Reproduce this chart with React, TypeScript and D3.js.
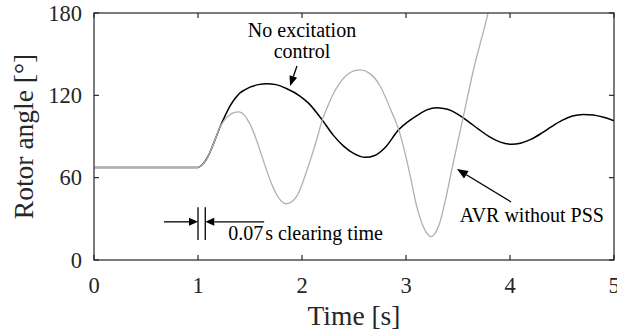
import React from "react";
import * as d3 from "d3";

const X_TICKS = [0, 1, 2, 3, 4, 5];
const Y_TICKS = [0, 60, 120, 180];

// No excitation control (black)
const T_BLACK = [0, 1.0, 1.03, 1.06, 1.1, 1.15, 1.21, 1.26, 1.31, 1.36, 1.4, 1.45, 1.5, 1.58, 1.66, 1.75, 1.85, 1.98, 2.06, 2.19, 2.3, 2.4, 2.5, 2.606, 2.7, 2.8, 2.93, 3.04, 3.1, 3.2, 3.295, 3.4, 3.5, 3.6, 3.7, 3.8, 3.9, 4.016, 4.1, 4.2, 4.3, 4.4, 4.5, 4.6, 4.705, 4.8, 4.9, 5.0];
const V_BLACK = [67.5, 67.5, 68.8, 71, 76, 85, 96.5, 105, 112.5, 118, 121.5, 124, 126, 127.8, 128.5, 127.8, 125, 119.5, 114.5, 102.5, 91, 83, 77.5, 74.8, 76.2, 82, 95, 102, 105, 109.4, 111, 109.8, 106.2, 100.8, 95.2, 89.9, 86.1, 84.3, 85.1, 87.9, 92.2, 97.2, 101.7, 104.9, 106.1, 105.6, 104, 101.5];

// AVR without PSS (gray)
const T_GRAY = [0, 1.0, 1.03, 1.06, 1.1, 1.15, 1.21, 1.25, 1.3, 1.35, 1.39, 1.45, 1.5, 1.55, 1.6, 1.65, 1.7, 1.75, 1.8, 1.846, 1.9, 1.95, 2.0, 2.05, 2.1, 2.15, 2.19, 2.25, 2.3, 2.35, 2.43, 2.5, 2.56, 2.65, 2.75, 2.85, 2.93, 3.0, 3.05, 3.1, 3.15, 3.2, 3.237, 3.27, 3.32, 3.38, 3.44, 3.551, 3.65, 3.79, 3.85];
const V_GRAY = [67.5, 67.5, 68.8, 71, 76, 85, 96.5, 101.5, 105.5, 107.6, 108, 105.2, 99, 90, 79, 67.5, 57, 48.5, 43, 41, 42.5, 46.5, 55, 66, 77.5, 90, 101, 112.5, 121, 127.5, 134.8, 137.8, 138.5, 136, 127, 110, 95, 75, 58, 40, 27.5, 19.5, 17, 18.5, 26, 44, 65.6, 104.5, 139, 180.5, 202];

const FAULT_START = 1.0;
const FAULT_CLEAR = 1.07;

const W = 617;
const H = 330;
const M = { left: 94, right: 614, top: 13, bottom: 260 };
const FONT = "'Liberation Serif', 'Times New Roman', serif";

function arrow(x1: number, y1: number, x2: number, y2: number, L = 10, hw = 4) {
  const dx = x2 - x1, dy = y2 - y1;
  const len = Math.hypot(dx, dy);
  const ux = dx / len, uy = dy / len;
  const bx = x2 - ux * L, by = y2 - uy * L;
  const nx = -uy, ny = ux;
  return {
    line: `M${x1},${y1}L${bx},${by}`,
    head: `M${x2},${y2}L${bx + nx * hw},${by + ny * hw}L${bx - nx * hw},${by - ny * hw}Z`,
  };
}

export default function App() {
  const x = d3.scaleLinear().domain([0, 5]).range([M.left, M.right]);
  const y = d3.scaleLinear().domain([0, 180]).range([M.bottom, M.top]);

  const line = d3
    .line<[number, number]>()
    .x((d) => x(d[0]))
    .y((d) => y(d[1]))
    .curve(d3.curveMonotoneX);

  const black = T_BLACK.map((t, i) => [t, V_BLACK[i]] as [number, number]);
  const gray = T_GRAY.map((t, i) => [t, V_GRAY[i]] as [number, number]);

  const tick = 5;

  const a1 = arrow(x(1.952), y(141.4), x(1.885), y(126.8), 10, 4);
  const a2 = arrow(x(4.01), y(42.3), x(3.49), y(66.3), 11, 4.5);
  const yArr = y(27.8);
  const aL = arrow(x(0.673), yArr, x(FAULT_START), yArr, 9, 4);
  const aR = arrow(x(1.636), yArr, x(FAULT_CLEAR), yArr, 9, 4);

  const txt = { fontFamily: FONT };

  return (
    <svg
      width={W}
      height={H}
      style={{ position: "absolute", left: 0, top: 0, background: "#fff", fontFamily: FONT }}
    >
      <defs>
        <clipPath id="plotclip">
          <rect x={M.left} y={M.top} width={M.right - M.left} height={M.bottom - M.top} />
        </clipPath>
      </defs>
      <rect x={0} y={0} width={W} height={H} fill="#fff" />

      <g clipPath="url(#plotclip)">
        <path d={line(black) || ""} fill="none" stroke="#000" strokeWidth={1.5} />
        <path d={line(gray) || ""} fill="none" stroke="#b0b0b0" strokeWidth={1.3} />
      </g>

      {/* axes box */}
      <rect
        x={M.left}
        y={M.top}
        width={M.right - M.left}
        height={M.bottom - M.top}
        fill="none"
        stroke="#262626"
        strokeWidth={1.2}
      />
      {X_TICKS.map((t) => (
        <g key={"xt" + t}>
          <line x1={x(t)} x2={x(t)} y1={M.bottom} y2={M.bottom - tick} stroke="#262626" strokeWidth={1.2} />
          <line x1={x(t)} x2={x(t)} y1={M.top} y2={M.top + tick} stroke="#262626" strokeWidth={1.2} />
          <text x={x(t)} y={293} textAnchor="middle" fontSize={22.5} fill="#262626" style={txt}>
            {t}
          </text>
        </g>
      ))}
      {Y_TICKS.map((v) => (
        <g key={"yt" + v}>
          <line x1={M.left} x2={M.left + tick} y1={y(v)} y2={y(v)} stroke="#262626" strokeWidth={1.2} />
          <line x1={M.right} x2={M.right - tick} y1={y(v)} y2={y(v)} stroke="#262626" strokeWidth={1.2} />
          <text x={82} y={y(v) + 7.5} textAnchor="end" fontSize={22.5} fill="#262626" style={txt}>
            {v}
          </text>
        </g>
      ))}

      <text x={(M.left + M.right) / 2} y={325} textAnchor="middle" fontSize={27.5} fill="#262626" style={txt}>
        Time [s]
      </text>
      <text
        transform={`translate(33,${(M.top + M.bottom) / 2}) rotate(-90)`}
        textAnchor="middle"
        fontSize={27.5}
        fill="#262626"
        style={txt}
      >
        Rotor angle [°]
      </text>

      {/* annotations */}
      <text x={x(2.0)} y={y(162.5)} textAnchor="middle" fontSize={20} fill="#000" style={txt}>
        No excitation
      </text>
      <text x={x(2.0)} y={y(147.2)} textAnchor="middle" fontSize={20} fill="#000" style={txt}>
        control
      </text>
      <path d={a1.line} stroke="#000" strokeWidth={1.3} fill="none" />
      <path d={a1.head} fill="#000" />

      <text x={x(4.21)} y={y(27.7)} textAnchor="middle" fontSize={20} fill="#000" style={txt}>
        AVR without PSS
      </text>
      <path d={a2.line} stroke="#000" strokeWidth={1.3} fill="none" />
      <path d={a2.head} fill="#000" />

      {/* clearing time marker */}
      <line x1={x(FAULT_START)} x2={x(FAULT_START)} y1={y(14.5)} y2={y(38.5)} stroke="#000" strokeWidth={1.3} />
      <line x1={x(FAULT_CLEAR)} x2={x(FAULT_CLEAR)} y1={y(14.5)} y2={y(38.5)} stroke="#000" strokeWidth={1.3} />
      <path d={aL.line} stroke="#000" strokeWidth={1.3} fill="none" />
      <path d={aL.head} fill="#000" />
      <path d={aR.line} stroke="#000" strokeWidth={1.3} fill="none" />
      <path d={aR.head} fill="#000" />
      <text x={x(2.034)} y={y(14.6)} textAnchor="middle" fontSize={20} fill="#000" style={txt}>
        0.07<tspan dx={2}>s clearing time</tspan>
      </text>
    </svg>
  );
}
